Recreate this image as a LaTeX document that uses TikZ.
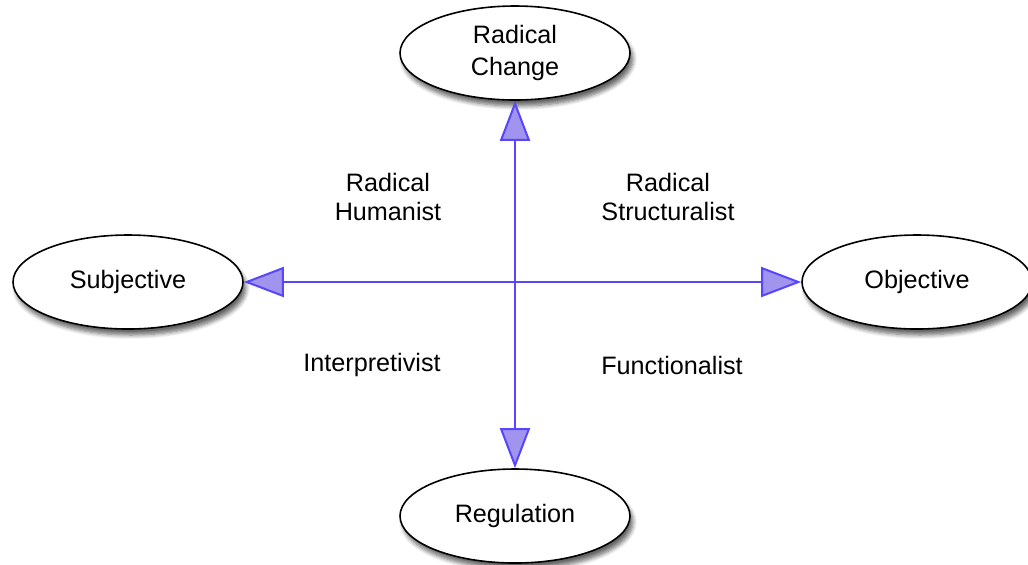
\documentclass[tikz,border=0pt]{standalone}
\usepackage{fontspec}
\setmainfont{Liberation Sans}
\usepackage{tikz}
\usetikzlibrary{positioning, arrows.meta, shapes.geometric, shadows.blur}
\definecolor{axisblue}{RGB}{88,70,250}
\definecolor{tipfill}{RGB}{160,148,238}

\tikzset{
    pole/.style={ellipse, draw=black, thick, fill=white, inner sep=0pt,
        minimum width=115pt, minimum height=47pt, align=center,
        blur shadow={shadow xshift=1.5pt, shadow yshift=-3pt, shadow blur steps=6, shadow opacity=60}},
    axis/.style={axisblue, line width=1pt,
        {Triangle[length=20pt, width=15pt, fill=tipfill]}-{Triangle[length=20pt, width=15pt, fill=tipfill]}},
    quadrant/.style={align=center}
}

\begin{document}
\begin{tikzpicture}[x=0.5pt, y=-0.5pt, font=\fontsize{12.6pt}{14.5pt}\selectfont]

% Cadre
\useasboundingbox (0,0) rectangle (1028,564);

% Poles
\node[pole, font=\fontsize{12.6pt}{16pt}\selectfont] (change) at (515,53) {Radical\\Change};
\node[pole] (regul) at (515,516) {Regulation};
\node[pole] (subj) at (128,282) {Subjective};
\node[pole] (obj) at (917,282) {Objective};

% Axes
\draw[axis] (regul.north) -- (change.south);
\draw[axis] (subj.east) -- (obj.west);

% Quadrants
\node[quadrant] (humanist) at (388,197) {Radical\\Humanist};
\node[quadrant] (structural) at (668,197) {Radical\\Structuralist};
\node[quadrant] (interp) at (372,365) {Interpretivist};
\node[quadrant] (funct) at (672,365) {Functionalist};

\end{tikzpicture}
\end{document}
